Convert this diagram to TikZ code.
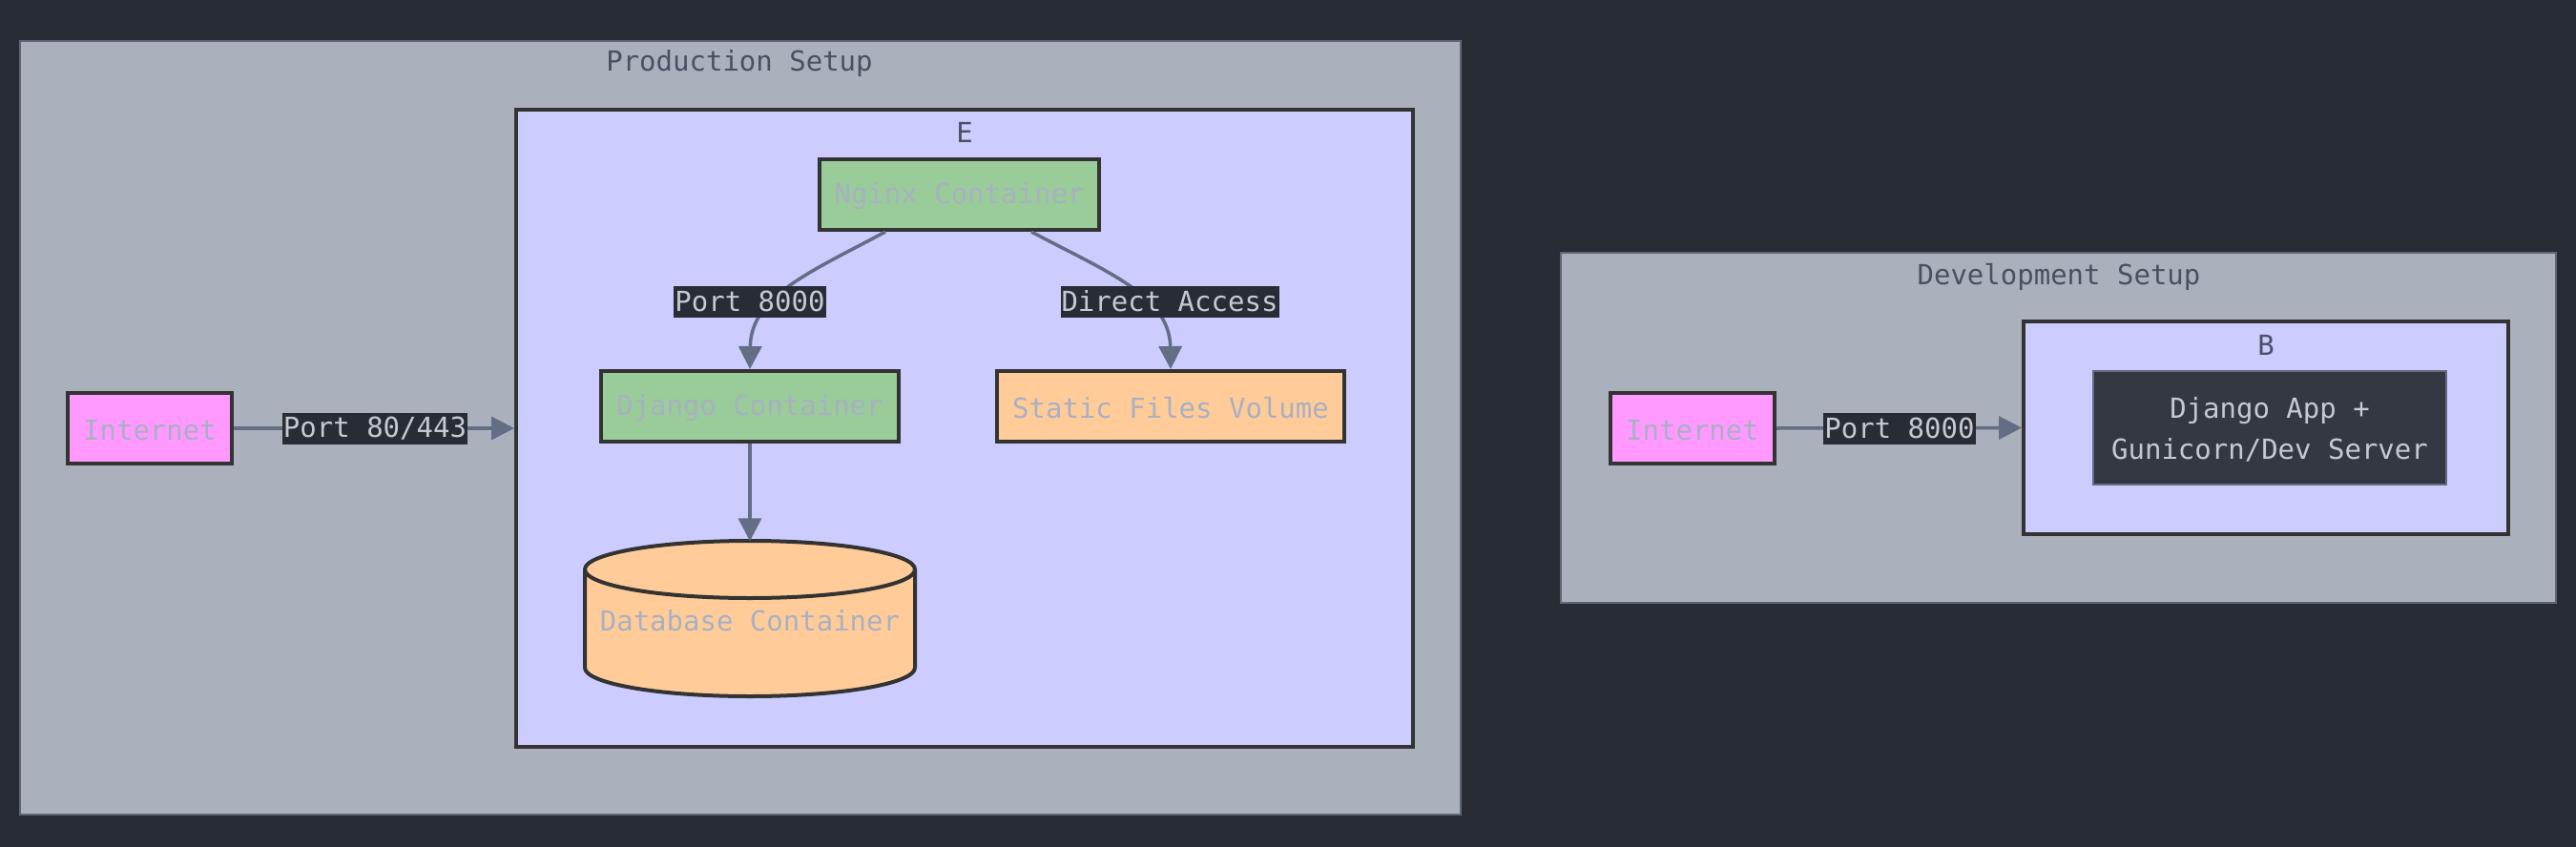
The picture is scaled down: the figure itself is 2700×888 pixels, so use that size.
\documentclass[tikz,border=0pt]{standalone}
\usepackage{fontspec}
\setmainfont{DejaVu Sans Mono}
\usetikzlibrary{arrows.meta}
\definecolor{bg}{HTML}{282C34}
\definecolor{clfill}{HTML}{AAB1BD}
\definecolor{clline}{HTML}{5F6677}
\definecolor{cltext}{HTML}{4A5062}
\definecolor{inner}{HTML}{CCCCFF}
\definecolor{nb}{HTML}{333333}
\definecolor{green}{HTML}{99CC99}
\definecolor{orange}{HTML}{FFCC99}
\definecolor{pink}{HTML}{FF99FF}
\definecolor{ntext}{HTML}{A8B0C2}
\definecolor{edge}{HTML}{636D83}
\definecolor{ltext}{HTML}{C5C9D2}
\definecolor{appfill}{HTML}{333842}
\definecolor{appline}{HTML}{646C80}
\begin{document}
\begin{tikzpicture}[x=1pt,y=-1pt,
  every node/.style={font=\fontsize{29}{43}\selectfont},
  cluster/.style={draw=clline,line width=2pt,fill=clfill},
  innerbox/.style={draw=nb,line width=4pt,fill=inner},
  ctitle/.style={text=cltext,inner sep=0pt},
  nodebox/.style={draw=nb,line width=4pt,text=ntext,inner sep=0pt},
  ntxt/.style={text=ntext,inner sep=0pt},
  elabel/.style={fill=bg,text=ltext,inner xsep=1pt,inner ysep=0pt,minimum height=33pt},
  conn/.style={draw=edge,line width=3.5pt,-{Triangle[length=24pt,width=24pt]}}
]
\fill[bg] (0,0) rectangle (2700,888);
\useasboundingbox (0,0) rectangle (2700,888);

% Production cluster
\draw[cluster] (21,43) rectangle (1531,854);
\node[ctitle] (ptitle) at (775,67) {Production Setup};
\node[innerbox,minimum width=940pt,minimum height=668pt,inner sep=0pt] (E) at (1011,449) {};
\node[ctitle] (Elab) at (1011,139) {E};

\node[nodebox,fill=pink,minimum width=172pt,minimum height=74pt] (inetP) at (157,449) {};
\node[ntxt] at (157,451) {Internet};
\node[nodebox,fill=green,minimum width=293pt,minimum height=74pt] (nginx) at (1005.5,204) {};
\node[ntxt] at (1005.5,206) {Nginx Container};
\node[nodebox,fill=green,minimum width=312pt,minimum height=74pt] (django) at (786,426) {};
\node[ntxt] at (786,428) {Django Container};
\node[nodebox,fill=orange,minimum width=364pt,minimum height=74pt] (static) at (1227,426) {};
\node[ntxt] at (1227,428) {Static Files Volume};

% database cylinder
\filldraw[fill=orange,draw=nb,line width=4pt]
  (613,597) -- (613,700) arc[start angle=180,end angle=360,x radius=173pt,y radius=30pt]
  -- (959,597) arc[start angle=0,end angle=180,x radius=173pt,y radius=30pt] -- cycle;
\draw[draw=nb,line width=4pt] (613,597) arc[start angle=180,end angle=360,x radius=173pt,y radius=30pt];
\node[text=ntext,inner sep=0pt,minimum width=346pt,minimum height=163pt] (db) at (786,649) {};
\node[ntxt] at (786,651) {Database Container};

% Development cluster
\draw[cluster] (1636,265) rectangle (2679,632);
\node[ctitle] (dtitle) at (2158,290) {Development Setup};
\node[innerbox,minimum width=508pt,minimum height=223pt,inner sep=0pt] (B) at (2375,448.5) {};
\node[ctitle] (Blab) at (2375,362) {B};
\node[nodebox,fill=pink,minimum width=172pt,minimum height=74pt] (inetD) at (1774,449) {};
\node[ntxt] at (1774,451) {Internet};
\node[draw=appline,line width=2pt,fill=appfill,text=ltext,minimum width=370pt,minimum height=119pt,align=center,inner sep=0pt] (app) at (2379,448.5) {};
\node[text=ltext,align=center,inner sep=0pt] at (2379,450.5) {Django App +\\Gunicorn/Dev Server};

% connectors
\draw[conn] (inetP.east) -- (E.west);
\draw[conn] (inetD.east) -- (B.west);
\draw[conn] ([xshift=71pt]nginx.south west) .. controls (850,285) and (787,310) .. (django.north);
\draw[conn] ([xshift=224pt]nginx.south west) .. controls (1160,285) and (1226,310) .. (static.north);
\draw[conn] (django.south) -- (db.north);

% edge labels
\node[elabel] (l1) at (393,449) {Port 80/443};
\node[elabel] (l2) at (786,316) {Port 8000};
\node[elabel] (l3) at (1226,316) {Direct Access};
\node[elabel] (l4) at (1991,449) {Port 8000};
\end{tikzpicture}
\end{document}
